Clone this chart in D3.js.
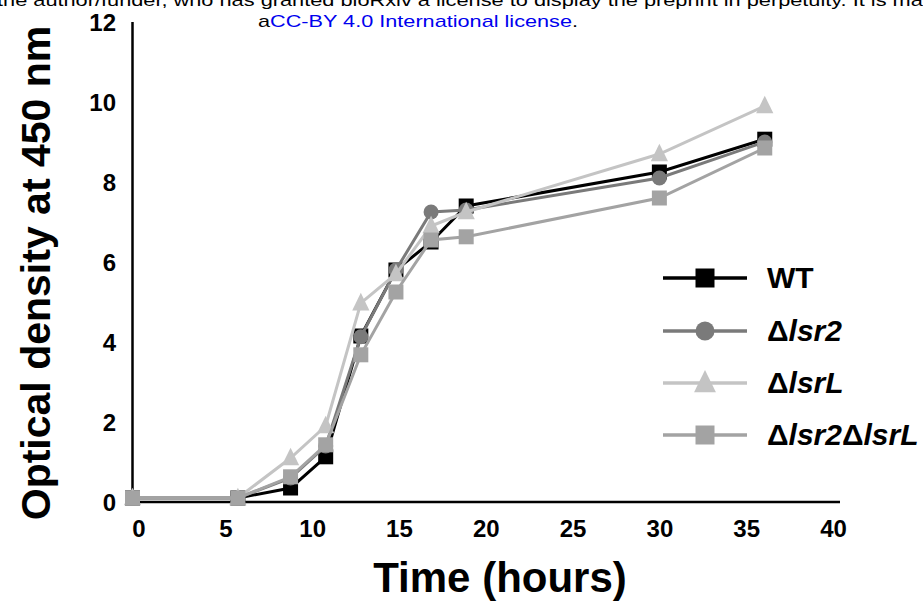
<!DOCTYPE html>
<html><head><meta charset="utf-8">
<script src="https://cdn.jsdelivr.net/npm/d3@7"></script>
<style>body{margin:0;background:#fff}svg{display:block}</style>
</head><body>
<svg id="c" width="923" height="602"></svg>
<script>
const times = [0, 6, 9, 11, 13, 15, 17, 19, 30, 36];
const wt = [0.1, 0.1, 0.35, 1.13, 4.15, 5.8, 6.5, 7.4, 8.25, 9.07];
const lsr2 = [0.1, 0.1, 0.6, 1.4, 4.13, 5.8, 7.25, 7.3, 8.1, 9.0];
const lsrL = [0.1, 0.1, 1.1, 1.9, 4.97, 5.7, 6.9, 7.25, 8.7, 9.9];
const lsr2lsrL = [0.1, 0.1, 0.63, 1.43, 3.68, 5.25, 6.55, 6.63, 7.6, 8.85];
const xTicks = [0, 5, 10, 15, 20, 25, 30, 35, 40];
const yTicks = [0, 2, 4, 6, 8, 10, 12];
const seriesNames = ["WT", "lsr2", "lsrL", "lsr2lsrL"];

const series = [
  {key: "WT", vals: wt, color: "#000000", shape: "square"},
  {key: "lsr2", vals: lsr2, color: "#7a7a7a", shape: "circle"},
  {key: "lsrL", vals: lsrL, color: "#c4c4c4", shape: "triangle"},
  {key: "lsr2lsrL", vals: lsr2lsrL, color: "#a3a3a3", shape: "square"}
];

const svg = d3.select("#c");
const x = d3.scaleLinear().domain([0, 40]).range([132.5, 835]);
const y = d3.scaleLinear().domain([0, 12]).range([502, 22]);
const font = "'Liberation Sans', Arial, sans-serif";

// header text (preprint notice)
svg.append("text").attr("x", -3).attr("y", 6).attr("font-family", font).attr("font-size", 17)
  .attr("fill", "#000").attr("textLength", 950).attr("lengthAdjust", "spacingAndGlyphs")
  .text("the author/funder, who has granted bioRxiv a license to display the preprint in perpetuity. It is made");
const l2 = svg.append("text").attr("x", 258).attr("y", 27).attr("font-family", font).attr("font-size", 17)
  .attr("textLength", 320).attr("lengthAdjust", "spacingAndGlyphs");
l2.append("tspan").attr("fill", "#000").text("a");
l2.append("tspan").attr("fill", "#0000ee").text("CC-BY 4.0 International license");
l2.append("tspan").attr("fill", "#000").text(".");

// axes lines
svg.append("line").attr("x1", x(0)).attr("x2", x(40) + 5).attr("y1", y(0)).attr("y2", y(0))
  .attr("stroke", "#000").attr("stroke-width", 2.5);
svg.append("line").attr("x1", x(0)).attr("x2", x(0)).attr("y1", y(0)).attr("y2", y(12))
  .attr("stroke", "#000").attr("stroke-width", 2.5);

// tick labels via d3 axes (no tick lines)
const xAxis = d3.axisBottom(x).tickValues(xTicks).tickSize(0).tickPadding(0).tickFormat(d3.format("d"));
const gx = svg.append("g").attr("transform", `translate(0,${y(0)})`).call(xAxis);
gx.select(".domain").remove();
gx.selectAll("text").attr("font-family", font).attr("font-size", 24).attr("font-weight", "bold")
  .attr("fill", "#000").attr("dy", null).attr("y", 35).attr("dx", d => 6 - d * 0.2);

const yAxis = d3.axisLeft(y).tickValues(yTicks).tickSize(0).tickPadding(0).tickFormat(d3.format("d"));
const gy = svg.append("g").attr("transform", `translate(${116},0)`).call(yAxis);
gy.select(".domain").remove();
gy.selectAll("text").attr("font-family", font).attr("font-size", 24).attr("font-weight", "bold")
  .attr("fill", "#000").attr("x", 0).attr("dy", "0.36em");

// axis titles
svg.append("text").attr("x", 500).attr("y", 592).attr("text-anchor", "middle")
  .attr("font-family", font).attr("font-size", 42).attr("font-weight", "bold").text("Time (hours)");
svg.append("text").attr("transform", "translate(50,273) rotate(-90)").attr("text-anchor", "middle")
  .attr("font-family", font).attr("font-size", 41).attr("font-weight", "bold").text("Optical density at 450 nm");

function marker(g, shape, cx, cy, color, size) {
  if (shape === "square") {
    g.append("rect").attr("x", cx - size / 2).attr("y", cy - size / 2).attr("width", size).attr("height", size)
      .attr("fill", color);
  } else if (shape === "circle") {
    g.append("circle").attr("cx", cx).attr("cy", cy).attr("r", size / 2).attr("fill", color);
  } else {
    const s = size * 1.15;
    g.append("path").attr("d", `M${cx},${cy - s * 0.6}L${cx + s / 2},${cy + s * 0.42}L${cx - s / 2},${cy + s * 0.42}Z`)
      .attr("fill", color);
  }
}

const line = d3.line().x(d => x(d[0])).y(d => y(d[1]));
series.forEach(s => {
  const g = svg.append("g");
  const pts = times.map((t, i) => [t, s.vals[i]]);
  g.append("path").attr("d", line(pts)).attr("fill", "none").attr("stroke", s.color).attr("stroke-width", 3);
  pts.forEach(p => marker(g, s.shape, x(p[0]), y(p[1]), s.color, 15));
});

// legend
const legY = [278, 331, 383, 435];
series.forEach((s, i) => {
  const g = svg.append("g");
  g.append("line").attr("x1", 663).attr("x2", 747).attr("y1", legY[i]).attr("y2", legY[i])
    .attr("stroke", s.color).attr("stroke-width", 3.5);
  marker(g, s.shape, 705, legY[i], s.color, 19);
  const t = g.append("text").attr("x", 767).attr("y", legY[i] + 10).attr("font-family", font)
    .attr("font-size", 30).attr("font-weight", "bold").attr("fill", "#000");
  if (s.key === "WT") {
    t.text("WT");
  } else if (s.key === "lsr2") {
    t.append("tspan").text("Δ"); t.append("tspan").attr("font-style", "italic").text("lsr2");
  } else if (s.key === "lsrL") {
    t.append("tspan").text("Δ"); t.append("tspan").attr("font-style", "italic").text("lsrL");
  } else {
    t.append("tspan").text("Δ"); t.append("tspan").attr("font-style", "italic").text("lsr2");
    t.append("tspan").text("Δ"); t.append("tspan").attr("font-style", "italic").text("lsrL");
  }
});
</script>
</body></html>
